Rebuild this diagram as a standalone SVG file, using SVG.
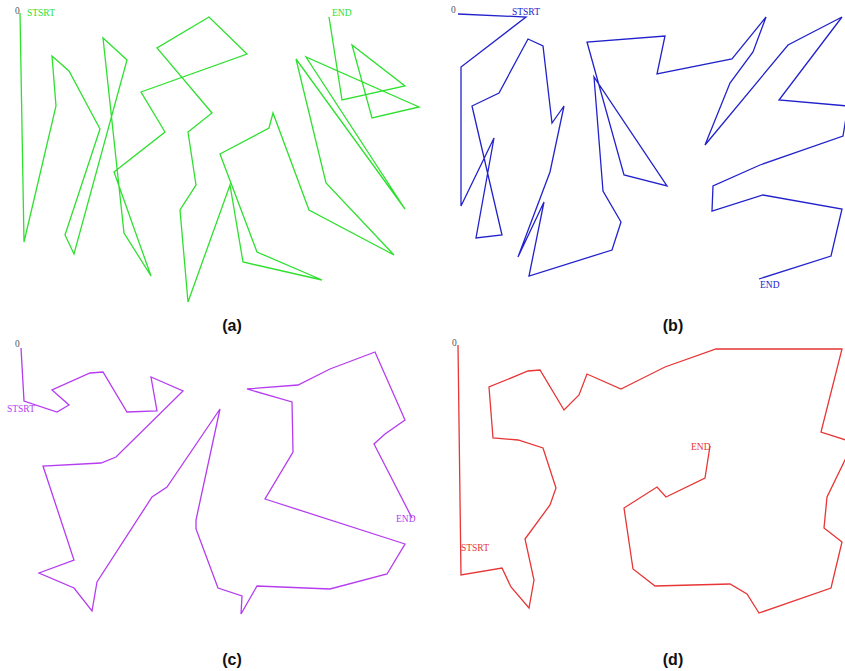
<svg xmlns="http://www.w3.org/2000/svg" width="845" height="671" viewBox="0 0 845 671">
<style>
.p{fill:none;stroke-width:1.3;stroke-linejoin:miter}
.t{font-family:"Liberation Serif",serif;font-size:9.5px}
.z{fill:#555}
.cap{font-family:"Liberation Sans",Arial,sans-serif;font-size:16px;font-weight:bold;fill:#111;text-anchor:middle}
</style>
<rect width="845" height="671" fill="#fff"/>
<g id="connectors">
<polyline id="route-a" class="p" stroke="#2ee02e" points="20,13 24,242 56,106 52,56 69,71 100,129 65,235 74,254 127,60 103,38 124,233 151,276 114,172 165,132 141,92 247,54 209,17 157,48 212,113 188,132 196,185 180,210 188,302 230,185 243,262 322,280 257,252 220,154 269,128 273,113 309,210 394,255 326,183 296,59 405,209 306,57 419,107 372,118 352,45 405,86 342,100 329,17"/>
<polyline id="route-b" class="p" stroke="#2222cc" points="458,14 526,17 461,67 461,206 494,138 476,238 502,235 472,106 499,93 528,39 543,46 552,123 564,106 550,172 518,257 544,202 529,276 612,250 621,222 603,191 594,77 667,186 624,175 587,42 665,36 657,74 732,59 766,17 753,52 730,83 705,145 788,45 842,17 779,100 848,106 843,136 760,165 713,186 712,211 763,195 842,209 831,256 759,279"/>
<polyline id="route-c" class="p" stroke="#b53cf0" points="21,348 24,401 57,412 69,405 52,390 90,373 103,372 127,412 157,411 151,377 183,391 116,457 101,463 43,466 74,560 39,573 74,588 92,611 97,582 152,497 167,487 220,409 196,520 196,529 218,588 242,596 241,614 257,586 330,589 387,574 405,544 265,499 293,452 292,402 247,389 298,385 330,369 375,352 405,420 385,434 374,444 412,518"/>
<polyline id="route-d" class="p" stroke="#e83535" points="458,345 461,575 502,568 511,587 529,608 534,580 525,539 550,505 556,488 543,448 518,440 493,438 489,387 528,371 540,370 564,410 579,395 587,374 621,389 635,382 665,367 716,349 842,349 821,432 849,441 846,458 827,497 824,528 842,542 831,588 759,613 747,594 730,584 655,586 633,569 624,508 657,487 666,497 705,478 710,446"/>
</g>
<g id="panel-a">
<text class="t z" x="15" y="14">0</text>
<text class="t" x="27" y="16" fill="#2ee02e">STSRT</text>
<text class="t" x="332" y="16" fill="#2ee02e">END</text>
<text class="cap" x="232" y="331">(a)</text>
</g>
<g id="panel-b">
<text class="t z" x="451" y="13">0</text>
<text class="t" x="512" y="15" fill="#2222cc">STSRT</text>
<text class="t" x="760" y="288" fill="#2222cc">END</text>
<text class="cap" x="673" y="331">(b)</text>
</g>
<g id="panel-c">
<text class="t z" x="15" y="347">0</text>
<text class="t" x="7" y="412" fill="#b53cf0">STSRT</text>
<text class="t" x="396" y="522" fill="#b53cf0">END</text>
<text class="cap" x="232" y="665">(c)</text>
</g>
<g id="panel-d">
<text class="t z" x="452" y="346">0</text>
<text class="t" x="461" y="551" fill="#e83535">STSRT</text>
<text class="t" x="691" y="450" fill="#e83535">END</text>
<text class="cap" x="673" y="665">(d)</text>
</g>
</svg>
